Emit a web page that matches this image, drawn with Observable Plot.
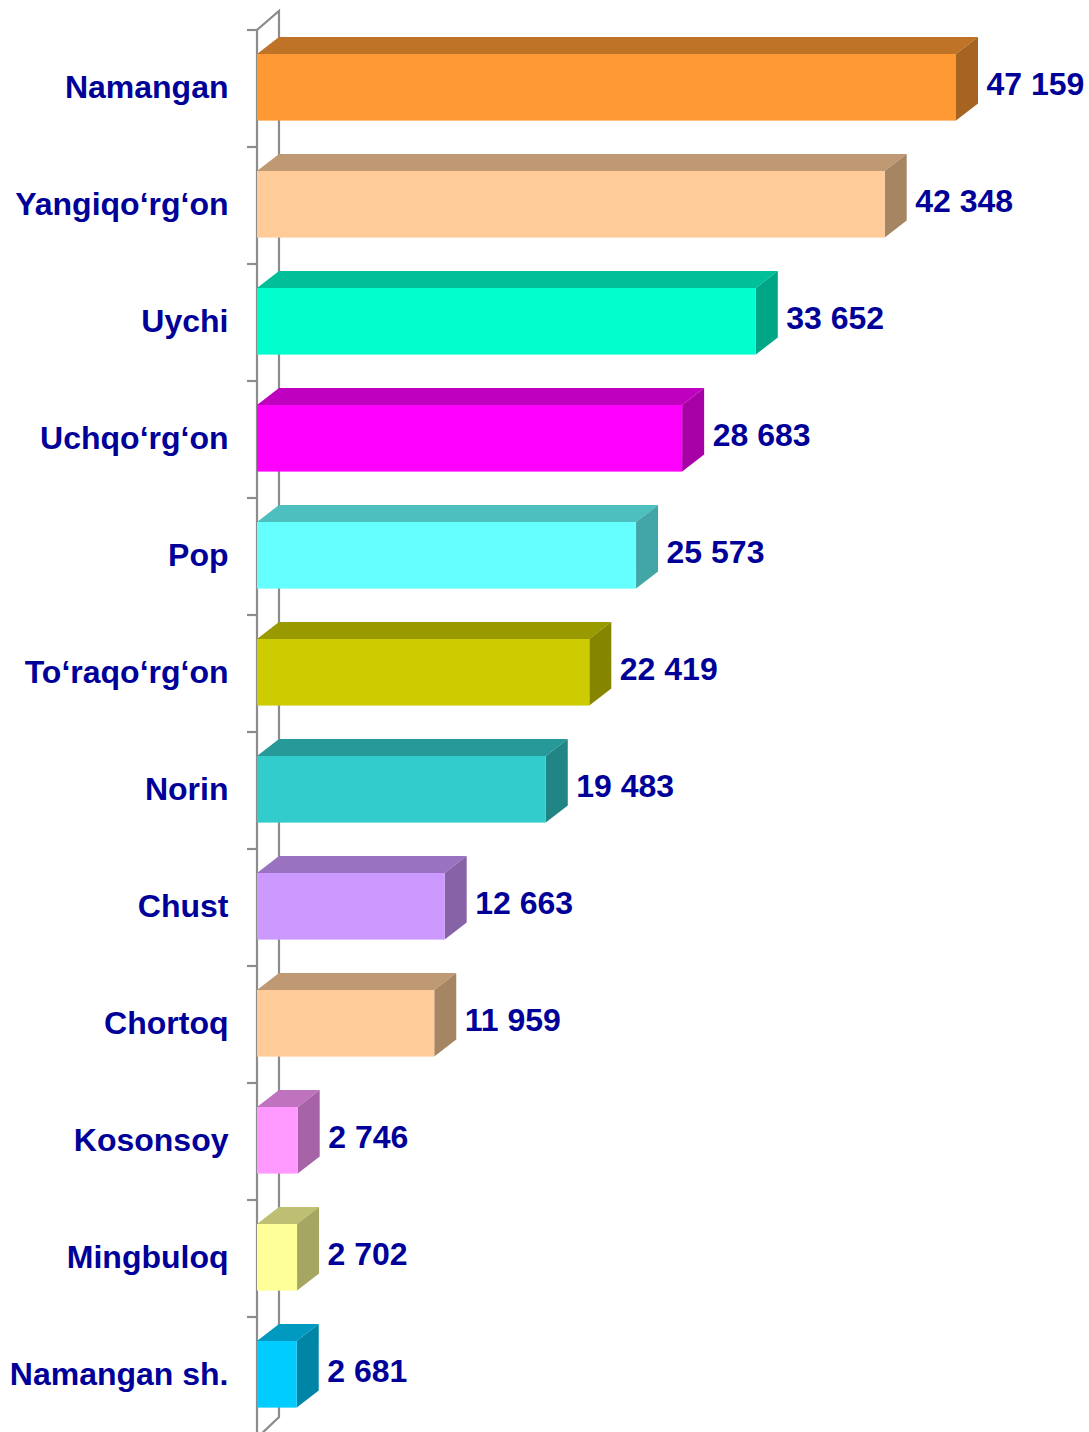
<!DOCTYPE html>
<html>
<head>
<meta charset="utf-8">
<script src="https://cdn.jsdelivr.net/npm/d3@7"></script>
<script src="https://cdn.jsdelivr.net/npm/@observablehq/plot@0.6"></script>
<style>
  html, body { margin: 0; padding: 0; background: #fff; }
  #chart { width: 1089px; height: 1432px; overflow: hidden; }
</style>
</head>
<body>
<div id="chart"></div>
<script>
const categories = ["Namangan", "Yangiqo‘rg‘on", "Uychi", "Uchqo‘rg‘on", "Pop", "To‘raqo‘rg‘on", "Norin", "Chust", "Chortoq", "Kosonsoy", "Mingbuloq", "Namangan sh."];
const values = [47159, 42348, 33652, 28683, 25573, 22419, 19483, 12663, 11959, 2746, 2702, 2681];
const colors = ["#FF9933", "#FFCC99", "#00FFCC", "#FF00FF", "#66FFFF", "#CCCC00", "#33CCCC", "#CC99FF", "#FFCC99", "#FF99FF", "#FFFF99", "#00CCFF"];

const rows = categories.map((c, i) => ({cat: c, value: values[i], color: colors[i]}));

const DX = 22, DY = 17;          // 3D depth offset (pixels)
const INSET_TOP = 24, INSET_BOTTOM = 26.4;
const labelColor = "#000099";
const fmt = v => d3.format(",")(v).replace(/,/g, " ");

function shade(c, k) {
  const r = d3.rgb(c);
  return d3.rgb(r.r * k, r.g * k, r.b * k).formatHex();
}

// wall (axis) drawn with the plot's scales
function wallMark(index, scales) {
  const x = scales.x, y = scales.y;
  const bw = y.bandwidth ? y.bandwidth() : (y(categories[1]) - y(categories[0]));
  const x0 = x(0);
  const yTop = y(categories[0]);
  const yBot = y(categories[categories.length - 1]) + bw;
  const g = d3.create("svg:g").attr("fill", "none").attr("stroke", "#8C8C8C").attr("stroke-width", 2.2);
  g.append("path").attr("d", `M${x0},${yBot + 4}V${yTop}L${x0 + DX},${yTop - DY - 2}V${yBot - DY}L${x0},${yBot + 4}`);
  const ticks = categories.map(c => y(c)).concat([yBot]);
  for (const t of ticks) g.append("line").attr("x1", x0 - 10).attr("x2", x0).attr("y1", t).attr("y2", t);
  return g.node();
}

// top and side faces of the 3D bars
function depthMark(index, scales) {
  const x = scales.x, y = scales.y;
  const bw = y.bandwidth ? y.bandwidth() : (y(categories[1]) - y(categories[0]));
  const g = d3.create("svg:g");
  rows.forEach(d => {
    const x0 = x(0), x1 = x(d.value);
    const yt = y(d.cat) + INSET_TOP, yb = y(d.cat) + bw - INSET_BOTTOM;
    g.append("path")
      .attr("d", `M${x0},${yt}L${x1},${yt}L${x1 + DX},${yt - DY}L${x0 + DX},${yt - DY}Z`)
      .attr("fill", shade(d.color, 0.75));
    g.append("path")
      .attr("d", `M${x1},${yt}L${x1 + DX},${yt - DY}L${x1 + DX},${yb - DY}L${x1},${yb}Z`)
      .attr("fill", shade(d.color, 0.65));
  });
  return g.node();
}

const chart = Plot.plot({
  width: 1089,
  height: 1432,
  x: {domain: [0, 47159], range: [257, 956], axis: null},
  y: {domain: categories, range: [27, 1436], padding: 0, axis: null},
  color: {type: "identity"},
  style: {fontFamily: "'Liberation Sans', Arial, sans-serif", background: "#fff", overflow: "hidden"},
  marks: [
    wallMark,
    depthMark,
    Plot.barX(rows, {x: "value", y: "cat", fill: "color", insetTop: INSET_TOP, insetBottom: INSET_BOTTOM}),
    Plot.text(rows, {x: () => 0, y: "cat", text: "cat", textAnchor: "end", dx: -29, dy: -1,
      fill: labelColor, fontSize: 32, fontWeight: "bold"}),
    Plot.text(rows, {x: "value", y: "cat", text: d => fmt(d.value), textAnchor: "start", dx: DX + 8, dy: -4,
      fill: labelColor, fontSize: 32, fontWeight: "bold"})
  ]
});
document.getElementById("chart").appendChild(chart);
</script>
</body>
</html>
